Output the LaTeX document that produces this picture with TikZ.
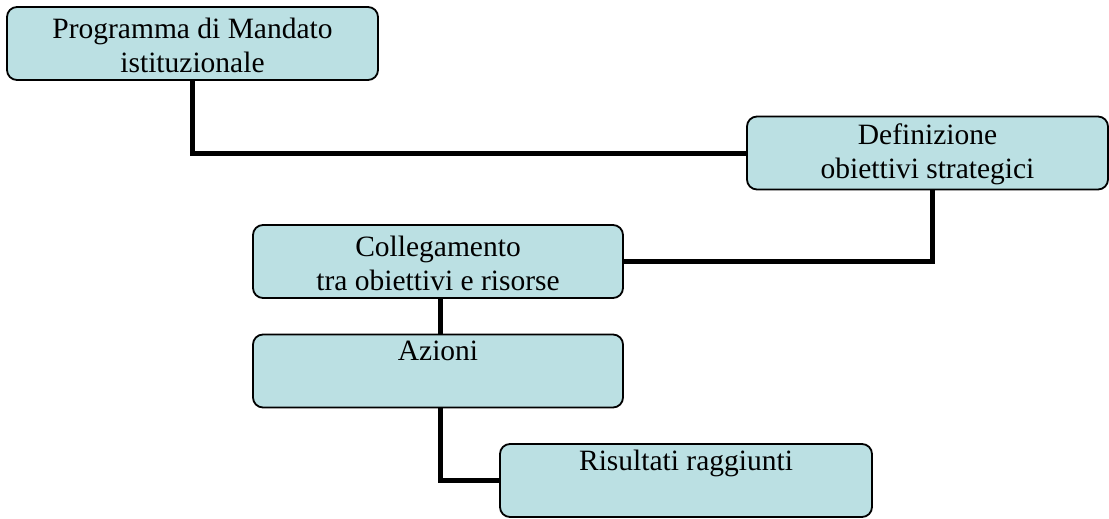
\documentclass[tikz,border=0pt]{standalone}
\usepackage{fontspec}
\setmainfont{Liberation Serif}
\usepackage{tikz}
\usetikzlibrary{positioning}

\definecolor{boxfill}{RGB}{187,224,227}

\tikzset{
    fase/.style={draw=black, line width=1.8pt, fill=boxfill, rounded corners=10pt,
        minimum height=73pt, align=center, inner sep=0pt,
        font=\fontsize{29.5}{34}\selectfont},
    legame/.style={line width=5pt}
}

\begin{document}
\begin{tikzpicture}
    \useasboundingbox (0,0) rectangle (1109pt,-519pt);

    \node[fase, minimum width=371pt] (programma) at (192.5pt,-43.5pt) {\strut Programma di Mandato\\istituzionale};
    \node[fase, minimum width=361pt] (definizione) at (927.5pt,-153pt) {\strut Definizione\\obiettivi strategici};
    \node[fase, minimum width=370pt] (collegamento) at (438pt,-261.5pt) {\strut Collegamento\\tra obiettivi e risorse};
    \node[fase, minimum width=370pt] (azioni) at (438pt,-371pt) {\strut Azioni\\\strut};
    \node[fase, minimum width=372pt] (risultati) at (686pt,-480.5pt) {\strut Risultati raggiunti\\\strut};

    % connettori
    \draw[legame] (programma.south) |- (definizione.west);
    \draw[legame] ([xshift=5pt]definizione.south) |- (collegamento.east);
    \draw[legame] ([xshift=2pt]collegamento.south) -- ([xshift=2pt]azioni.north);
    \draw[legame] ([xshift=2pt]azioni.south) |- (risultati.west);
\end{tikzpicture}
\end{document}
